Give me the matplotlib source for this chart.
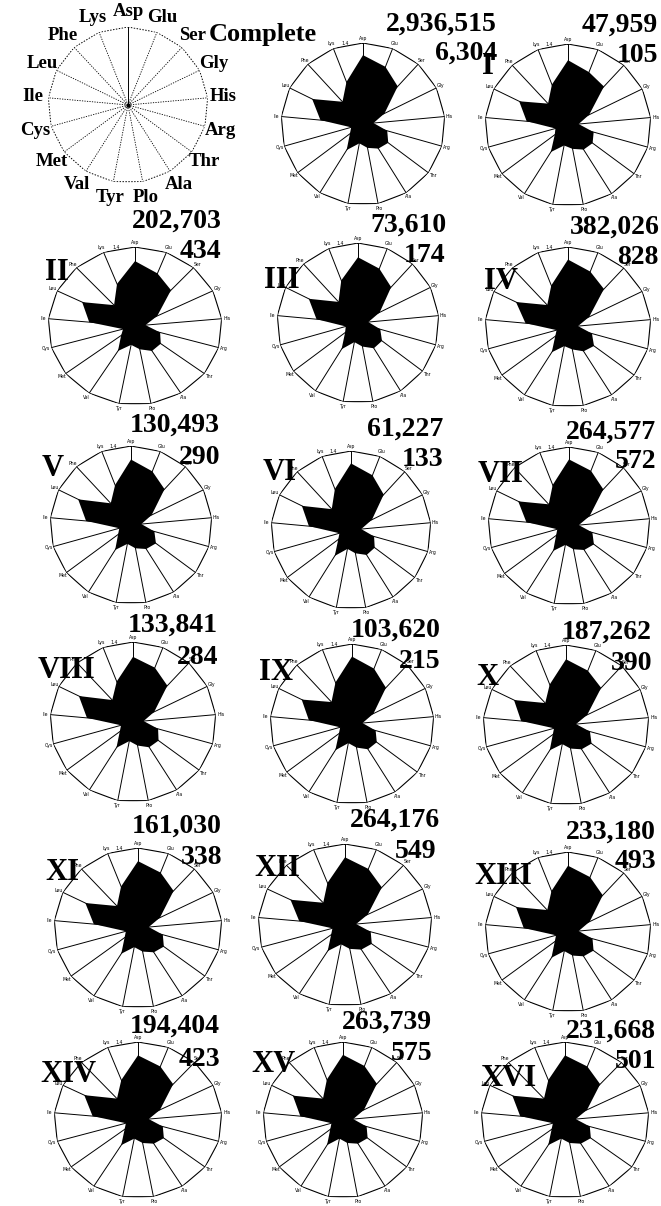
import matplotlib
matplotlib.use("Agg")
import matplotlib.pyplot as plt
import numpy as np

# ---------------- data ----------------
axis_labels = ["Asp", "Glu", "Ser", "Gly", "His", "Arg", "Thr", "Ala", "Pro",
               "Tyr", "Val", "Met", "Cys", "Ile", "Leu", "Phe", "Lys"]
legend_labels = ["Asp", "Glu", "Ser", "Gly", "His", "Arg", "Thr", "Ala", "Plo",
                 "Tyr", "Val", "Met", "Cys", "Ile", "Leu", "Phe", "Lys"]
r_max = 1.4

panel_names = ["Complete", "I", "II", "III", "IV", "V", "VI", "VII", "VIII",
               "IX", "X", "XI", "XII", "XIII", "XIV", "XV", "XVI"]
count_top = ["2,936,515", "47,959", "202,703", "73,610", "382,026", "130,493",
             "61,227", "264,577", "133,841", "103,620", "187,262", "161,030",
             "264,176", "233,180", "194,404", "263,739", "231,668"]
count_bottom = ["6,304", "105", "434", "174", "828", "290", "133", "572", "284",
                "215", "390", "338", "549", "493", "423", "575", "501"]

#            Asp   Glu   Ser   Gly   His   Arg   Thr   Ala   Pro   Tyr   Val   Met   Cys   Ile   Leu   Phe   Lys
v_complete = [1.19, 1.06, 0.88, 0.41, 0.18, 0.43, 0.54, 0.50, 0.42, 0.34, 0.53, 0.28, 0.21, 0.73, 0.97, 0.52, 0.78]
v_I        = [1.12, 0.98, 0.90, 0.40, 0.18, 0.45, 0.52, 0.50, 0.42, 0.36, 0.55, 0.28, 0.22, 0.70, 0.92, 0.50, 0.75]
v_II       = [1.15, 1.00, 0.86, 0.40, 0.17, 0.42, 0.52, 0.52, 0.42, 0.34, 0.52, 0.28, 0.20, 0.74, 0.95, 0.50, 0.80]
v_III      = [1.15, 1.02, 0.85, 0.42, 0.18, 0.40, 0.52, 0.52, 0.42, 0.34, 0.54, 0.28, 0.22, 0.72, 0.95, 0.50, 0.80]
v_IV       = [1.18, 1.04, 0.90, 0.40, 0.17, 0.42, 0.55, 0.50, 0.40, 0.34, 0.52, 0.27, 0.20, 0.72, 0.98, 0.52, 0.78]
v_V        = [1.16, 1.02, 0.86, 0.40, 0.18, 0.42, 0.54, 0.50, 0.42, 0.34, 0.52, 0.28, 0.21, 0.78, 1.02, 0.52, 0.76]
v_VI       = [1.18, 1.04, 0.85, 0.41, 0.18, 0.42, 0.52, 0.52, 0.42, 0.34, 0.54, 0.28, 0.21, 0.74, 0.96, 0.50, 0.78]
v_VII      = [1.18, 1.05, 0.88, 0.40, 0.17, 0.42, 0.54, 0.50, 0.42, 0.34, 0.52, 0.28, 0.21, 0.74, 0.98, 0.52, 0.78]
v_VIII     = [1.14, 1.02, 0.86, 0.40, 0.18, 0.44, 0.54, 0.52, 0.42, 0.34, 0.53, 0.28, 0.21, 0.78, 1.02, 0.52, 0.76]
v_IX       = [1.18, 1.04, 0.86, 0.41, 0.18, 0.42, 0.53, 0.52, 0.42, 0.34, 0.54, 0.28, 0.21, 0.74, 0.96, 0.52, 0.78]
v_X        = [1.15, 1.02, 0.88, 0.40, 0.17, 0.42, 0.54, 0.50, 0.42, 0.34, 0.52, 0.28, 0.21, 0.76, 0.98, 0.52, 0.76]
v_XI       = [1.17, 1.04, 0.88, 0.41, 0.18, 0.43, 0.54, 0.50, 0.42, 0.34, 0.53, 0.28, 0.21, 0.74, 0.98, 0.52, 0.78]
v_XII      = [1.17, 1.04, 0.88, 0.41, 0.18, 0.43, 0.54, 0.50, 0.42, 0.34, 0.53, 0.28, 0.21, 0.74, 0.98, 0.52, 0.78]
v_XIII     = [1.16, 1.03, 0.87, 0.41, 0.18, 0.43, 0.54, 0.50, 0.42, 0.34, 0.53, 0.28, 0.21, 0.75, 0.98, 0.52, 0.77]
v_XIV      = [1.16, 1.03, 0.87, 0.41, 0.18, 0.43, 0.54, 0.50, 0.42, 0.34, 0.53, 0.28, 0.21, 0.76, 1.00, 0.52, 0.77]
v_XV       = [1.17, 1.04, 0.88, 0.41, 0.18, 0.43, 0.54, 0.50, 0.42, 0.34, 0.53, 0.28, 0.21, 0.75, 0.98, 0.52, 0.78]
v_XVI      = [1.16, 1.03, 0.87, 0.41, 0.18, 0.43, 0.54, 0.50, 0.42, 0.34, 0.53, 0.28, 0.21, 0.75, 0.98, 0.52, 0.77]
panel_values = [v_complete, v_I, v_II, v_III, v_IV, v_V, v_VI, v_VII, v_VIII,
                v_IX, v_X, v_XI, v_XII, v_XIII, v_XIV, v_XV, v_XVI]

# ---------------- layout (pixels, origin top-left) ----------------
W, H = 661, 1206
# radar centre x, centre y, half-width, half-height
geom = [
    (363, 124, 82, 81), (568, 125, 83, 81),
    (135, 326, 87, 79), (358, 323, 81, 80), (568, 327, 83, 80),
    (131, 525, 81, 79), (351, 530, 80, 79), (569, 526, 81, 79),
    (133, 722, 83, 80), (352, 724, 82, 80), (566, 725, 83, 80),
    (138, 928, 84, 80), (345, 925, 87, 81), (568, 932, 83, 80),
    (138, 1120, 84, 78), (343, 1120, 80, 78), (565, 1120, 84, 78),
]
# (right x, centre y) of the two counts, (centre x, centre y) of the roman label
top_pos = [(497, 24), (658, 25), (222, 221), (447, 225), (660, 227), (220, 425),
           (443, 429), (656, 432), (218, 625), (441, 630), (652, 632), (222, 826),
           (440, 820), (656, 832), (220, 1026), (432, 1022), (656, 1031)]
bot_pos = [(497, 53), (658, 56), (221, 252), (445, 255), (659, 257), (220, 457),
           (443, 460), (656, 462), (218, 657), (441, 661), (652, 663), (222, 857),
           (436, 851), (656, 861), (220, 1059), (432, 1054), (656, 1062)]
name_pos = [(263, 35), (488, 67), (57, 272), (282, 280), (501, 282), (53, 469),
            (280, 472), (501, 475), (66, 670), (276, 673), (487, 677), (62, 872),
            (277, 868), (503, 877), (68, 1074), (273, 1064), (508, 1078)]

fig = plt.figure(figsize=(W / 100, H / 100), dpi=100)
fig.patch.set_facecolor("white")

n = len(axis_labels)
theta = np.arange(n) * 2 * np.pi / n
theta_c = np.append(theta, theta[0])
serif = ["Liberation Serif", "DejaVu Serif"]


def fx(x):
    return x / W


def fy(y):
    return 1 - y / H


def make_polar(cx, cy, rx, ry):
    ax = fig.add_axes([fx(cx - rx), fy(cy + ry), 2 * rx / W, 2 * ry / H],
                      projection="polar")
    ax.set_aspect("auto")
    ax.set_theta_zero_location("N")
    ax.set_theta_direction(-1)
    ax.set_ylim(0, r_max)
    ax.set_xticks([])
    ax.set_yticks([])
    ax.grid(False)
    ax.spines["polar"].set_visible(False)
    ax.patch.set_alpha(0)
    return ax


# ---------------- legend panel ----------------
lax = make_polar(128, 105, 80, 78)
lax.plot(theta_c, np.full(n + 1, r_max), color="black", lw=0.7, ls=(0, (1.5, 1.5)))
for i, t in enumerate(theta):
    lax.plot([t, t], [0, r_max], color="black", lw=0.7 if i == 0 else 0.6,
             ls="-" if i == 0 else (0, (1.5, 1.5)))
    lax.text(t, r_max * 1.2, legend_labels[i], ha="center", va="center",
             fontsize=13.5, fontweight="bold", family=serif)
lax.plot([0], [0], marker="o", ms=2, color="black")

# ---------------- radar panels ----------------
for k, vals in enumerate(panel_values):
    cx, cy, rx, ry = geom[k]
    ax = make_polar(cx, cy, rx, ry)
    for t in theta:
        ax.plot([t, t], [0, r_max], color="black", lw=0.7, zorder=1)
    ax.plot(theta_c, np.full(n + 1, r_max), color="black", lw=0.8, zorder=1)
    v = np.append(vals, vals[0])
    ax.fill(theta_c, v, color="black", zorder=2, lw=0)
    for i, t in enumerate(theta):
        ax.text(t, r_max * 1.06, axis_labels[i], ha="center", va="center",
                fontsize=3.3, family=["DejaVu Sans"], zorder=3)
    ax.text(-0.22, r_max * 1.02, "1.4", ha="center", va="center",
            fontsize=3.3, zorder=3)

    # texts
    xr, yc = top_pos[k]
    fig.text(fx(xr), fy(yc), count_top[k], ha="right", va="center",
             fontsize=20, fontweight="bold", family=serif)
    xr, yc = bot_pos[k]
    fig.text(fx(xr), fy(yc), count_bottom[k], ha="right", va="center",
             fontsize=20, fontweight="bold", family=serif)
    xn, yn = name_pos[k]
    fig.text(fx(xn), fy(yn), panel_names[k], ha="center", va="center",
             fontsize=19 if k == 0 else 22, fontweight="bold", family=serif)

fig.savefig("out.png", dpi=100, facecolor="white")
